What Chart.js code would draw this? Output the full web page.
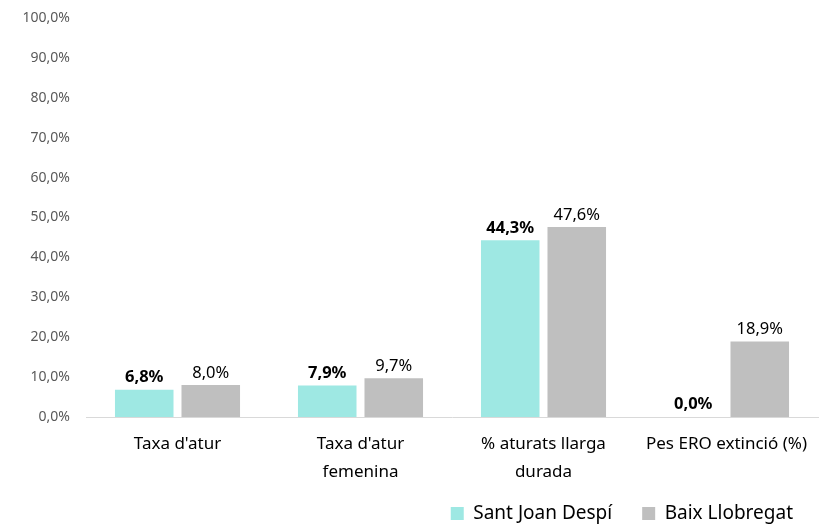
<!DOCTYPE html>
<html><head><meta charset="utf-8">
<script src="https://cdn.jsdelivr.net/npm/chart.js@4/dist/chart.umd.min.js"></script>
<style>html,body{margin:0;padding:0;background:#fff}#wrap{width:819px;height:526px}</style>
</head><body><div id="wrap"><canvas id="c" width="819" height="526"></canvas></div>
<script>
const categories = [["Taxa d'atur"], ["Taxa d'atur", "femenina"], ["% aturats llarga", "durada"], ["Pes ERO extinció (%)"]];
const seriesNames = ["Sant Joan Despí", "Baix Llobregat"];
const santJoan = [6.8, 7.9, 44.3, 0.0];
const baix = [8.0, 9.7, 47.6, 18.9];
const yTicksMax = 100;
const yTicksStep = 10;

const FONT = "'Noto Sans', 'Liberation Sans', sans-serif";
const fmt = v => v.toFixed(1).replace('.', ',') + '%';

const labelPlugin = {
  id: 'barLabels',
  afterDatasetsDraw(chart) {
    const ctx = chart.ctx;
    chart.data.datasets.forEach((ds, i) => {
      const meta = chart.getDatasetMeta(i);
      meta.data.forEach((bar, j) => {
        ctx.save();
        ctx.font = (i === 0 ? 'bold ' : '') + '16.5px ' + FONT;
        ctx.fillStyle = '#000';
        ctx.textAlign = 'center';
        ctx.textBaseline = 'bottom';
        ctx.fillText(fmt(ds.data[j]), bar.x, bar.y - 4);
        ctx.restore();
      });
    });
  }
};

const legendShift = {
  id: 'legendShift',
  afterLayout(chart) {
    const lg = chart.legend;
    if (lg) { lg.right += 5; lg.top -= 3; lg.bottom -= 3; }
  }
};

new Chart(document.getElementById('c'), {
  type: 'bar',
  data: {
    labels: categories,
    datasets: [
      { label: seriesNames[0], data: santJoan, backgroundColor: '#9EE8E3' },
      { label: seriesNames[1], data: baix, backgroundColor: '#BFBFBF' }
    ]
  },
  options: {
    responsive: false,
    animation: false,
    devicePixelRatio: 1,
    categoryPercentage: 0.727,
    barPercentage: 0.88,
    layout: { padding: { top: 18, right: 1, left: 0, bottom: -10 } },
    plugins: {
      tooltip: { enabled: false },
      legend: {
        position: 'bottom',
        align: 'end',
        labels: {
          font: { family: FONT, size: 19 },
          color: '#000',
          boxWidth: 13, boxHeight: 13,
          padding: 30
        }
      }
    },
    scales: {
      y: {
        min: 0, max: yTicksMax,
        grid: { display: false, drawTicks: false },
        border: { display: false },
        ticks: {
          stepSize: yTicksStep,
          callback: v => fmt(v),
          font: { family: FONT, size: 14 },
          color: '#595959',
          padding: 16
        },
        afterFit(scale) { scale.width = 86; scale.paddingTop = 0; scale.paddingBottom = 0; }
      },
      x: {
        grid: { display: false, drawTicks: false },
        border: { display: true, color: '#D9D9D9', width: 1 },
        ticks: {
          font: { family: FONT, size: 17, lineHeight: 1.6 },
          color: '#000',
          padding: 14,
          maxRotation: 0, autoSkip: false
        },
        afterFit(scale) { scale.height = 60; scale.paddingLeft = 0; scale.paddingRight = 0; }
      }
    }
  },
  plugins: [labelPlugin, legendShift]
});
</script></body></html>
